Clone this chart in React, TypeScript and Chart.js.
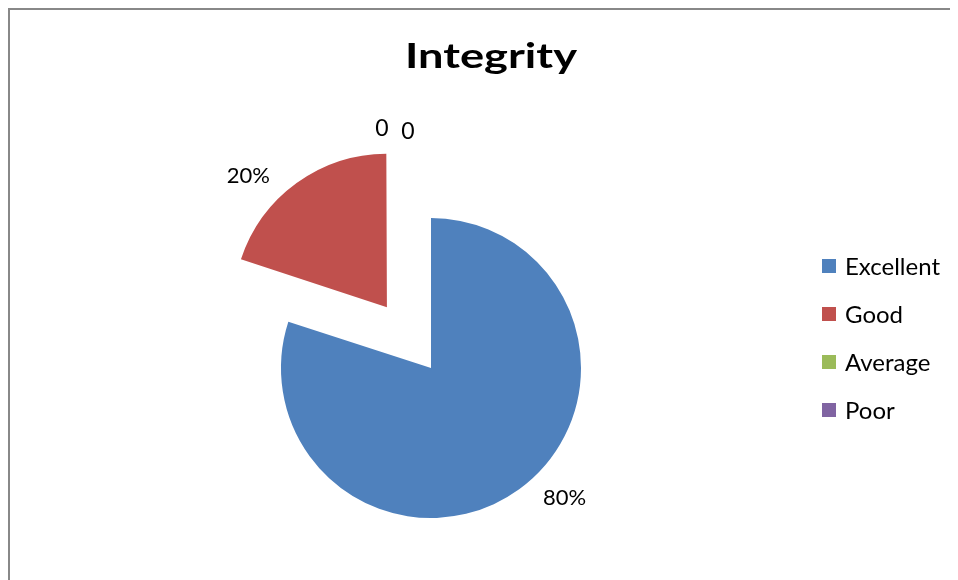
import React, { useEffect, useRef } from "react";
import { Chart, registerables } from "chart.js";

Chart.register(...registerables);

const chartTitle = "Integrity";
const categories = ["Excellent", "Good", "Average", "Poor"];
const values = [80, 20, 0, 0];
const dataLabels = ["80%", "20%", "0", "0"];
const colors = ["#4F81BD", "#C0504D", "#9BBB59", "#8064A2"];
const explode = [0, 300, 0, 0];

const FONT = "Lato, 'Liberation Sans', sans-serif";

const overlayPlugin = {
  id: "overlay",
  afterDraw(chart: any) {
    const ctx: CanvasRenderingContext2D = chart.ctx;
    const meta = chart.getDatasetMeta(0);
    ctx.save();
    ctx.fillStyle = "#000";

    // title (wide, bold face as in the reference)
    ctx.font = `bold 34px ${FONT}`;
    ctx.textAlign = "center";
    ctx.textBaseline = "alphabetic";
    const tw = ctx.measureText(chartTitle).width;
    const sx = 172 / tw;
    ctx.save();
    ctx.translate(481, 58);
    ctx.scale(sx, 1);
    ctx.fillText(chartTitle, 0, 0);
    ctx.restore();

    // data labels
    ctx.font = `22px ${FONT}`;
    let anchor: { x: number; y: number } | null = null;
    let zi = 0;
    meta.data.forEach((arc: any, i: number) => {
      const mid = (arc.startAngle + arc.endAngle) / 2;
      const shift = explode[i] / 4;
      const cx = arc.x + Math.cos(mid) * shift;
      const cy = arc.y + Math.sin(mid) * shift;
      const r = arc.outerRadius;
      if (values[i] === 0) {
        const a = anchor || { x: arc.x, y: arc.y - r };
        ctx.font = `23px ${FONT}`;
        ctx.textAlign = "center";
        ctx.textBaseline = "middle";
        ctx.fillText(dataLabels[i], a.x - 5 + zi * 26, a.y - 29 + zi * 3);
        zi++;
      } else {
        ctx.font = `22px ${FONT}`;
        const px = cx + Math.cos(mid) * (r + 10);
        const py = cy + Math.sin(mid) * (r + 10);
        const right = Math.cos(mid) >= 0;
        ctx.textAlign = right ? "left" : "right";
        ctx.textBaseline = "middle";
        ctx.fillText(dataLabels[i], px + (right ? 18 : -23), py - (right ? 0 : 2));
        anchor = {
          x: cx + Math.cos(arc.endAngle) * r,
          y: cy + Math.sin(arc.endAngle) * r,
        };
      }
    });

    // legend
    ctx.font = `24px ${FONT}`;
    ctx.textAlign = "left";
    ctx.textBaseline = "middle";
    categories.forEach((c, i) => {
      const yc = 256 + i * 48;
      ctx.fillStyle = colors[i];
      ctx.fillRect(812, yc - 7, 14, 14);
      ctx.fillStyle = "#000";
      ctx.fillText(c, 835, yc + 1);
    });
    ctx.restore();
  },
};

export default function App() {
  const ref = useRef<HTMLCanvasElement>(null);
  useEffect(() => {
    if (!ref.current) return;
    const chart = new Chart(ref.current, {
      type: "pie",
      data: {
        labels: categories,
        datasets: [
          {
            data: values,
            backgroundColor: colors,
            borderWidth: 0,
            offset: explode,
            hoverOffset: 0,
            radius: 150,
          } as any,
        ],
      },
      options: {
        responsive: false,
        animation: false,
        events: [],
        layout: { padding: { left: 0, right: 106, top: 146, bottom: 0 } },
        plugins: {
          legend: { display: false },
          title: { display: false },
          tooltip: { enabled: false },
        },
      } as any,
      plugins: [overlayPlugin],
    });
    return () => chart.destroy();
  }, []);
  return (
    <div
      style={{
        width: 950,
        height: 572,
        boxSizing: "border-box",
        borderTop: "2px solid #888",
        borderLeft: "2px solid #888",
        background: "#fff",
      }}
    >
      <canvas ref={ref} width={948} height={570} style={{ display: "block" }} />
    </div>
  );
}
